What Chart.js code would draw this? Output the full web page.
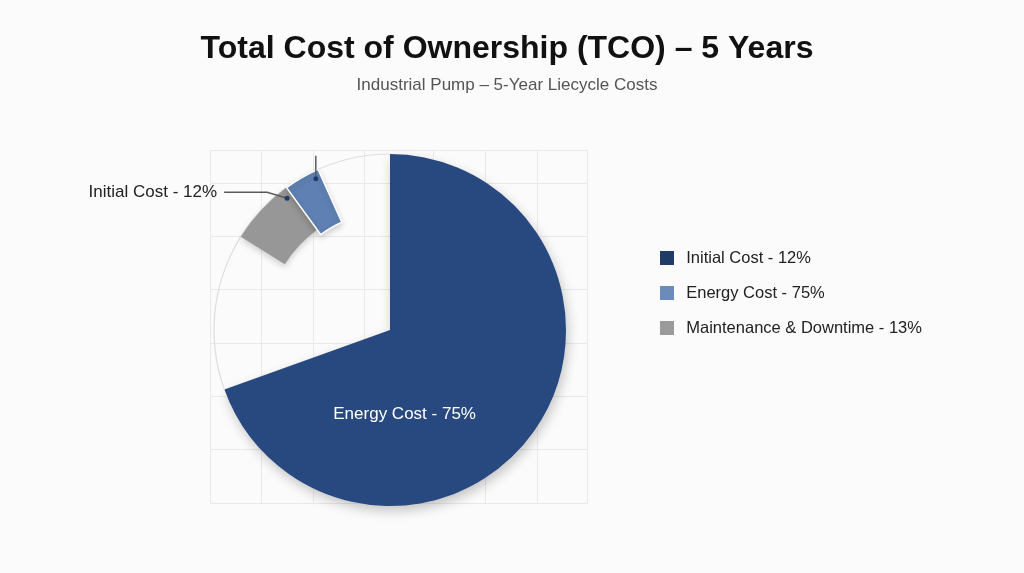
<!DOCTYPE html>
<html><head><meta charset="utf-8">
<script src="https://cdn.jsdelivr.net/npm/chart.js@4.4.1/dist/chart.umd.min.js"></script>
<style>
html,body{margin:0;padding:0;background:#fbfbfb;}
#wrap{position:relative;width:1024px;height:573px;overflow:hidden;background:#fbfbfb;}
#wrap canvas{position:absolute;left:0;top:0;}
</style></head><body>
<div id="wrap"><canvas id="grid" width="1024" height="573"></canvas><canvas id="pie" width="1024" height="573"></canvas></div>
<script>
// ---------- data ----------
const titleText = 'Total Cost of Ownership (TCO) – 5 Years';
const subtitleText = 'Industrial Pump – 5-Year Liecycle Costs';
const categories = ['Initial Cost', 'Energy Cost', 'Maintenance & Downtime'];
const sharePct = [12, 75, 13];
// slices as drawn (percent of the full circle, clockwise from 12 o'clock)
const energySlice = [69.5, 30.5];          // energy wedge, empty remainder
const grayRing = [83.9, 6.1, 10.0];        // empty, gray wedge, empty
const blueRing = [90.0, 3.3, 6.7];         // empty, blue wedge, empty
const outlineRing = [69.5, 30.5];          // under energy, outline of empty part
const pieLabel = 'Energy Cost - 75%';
const calloutLabel = 'Initial Cost - 12%';
const xGridTicks = [0, 1, 2, 3, 4.33, 5.34, 6.35, 7.32];
const yGridTicks = [0, 1, 2, 3, 4, 5, 6, 6.62];

// ---------- style ----------
const FONT = '"Liberation Sans", Arial, Helvetica, sans-serif';
Chart.defaults.font.family = FONT;
const pageBg = '#fbfbfb';
const navy = '#27497f', blue = '#5e80b2', gray = '#979797', none = 'rgba(0,0,0,0)';
const legendColors = ['#1f3b66', '#6b8cbb', '#9a9a9a'];
const gridColor = '#e9e9e9';

// ring geometry helper (per-dataset radius / cutout so that rings overlap)
const ringWeights = [20, 10, 1, 10];
function ringGeom(k, outer, inner) {
  const T = ringWeights.reduce((a, b) => a + b, 0);
  const Wb = ringWeights.slice(0, k).reduce((a, b) => a + b, 0);
  const rho = (outer - inner) / ringWeights[k];
  const R = outer + Wb * rho;
  const c = Math.max(1 - rho * T / R, 0);
  return { radius: R, cutout: (c * 100) + '%', weight: ringWeights[k] };
}

// ---------- background grid + titles ----------
new Chart(document.getElementById('grid'), {
  type: 'scatter',
  data: { datasets: [] },
  options: {
    responsive: false, animation: false, devicePixelRatio: 1, events: [],
    layout: { padding: { left: 0, right: 10, top: 10, bottom: 70 } },
    plugins: {
      legend: { display: false }, tooltip: { enabled: false },
      title: { display: true, text: titleText, color: '#111', font: { size: 32, weight: 'bold' }, padding: { top: 20, bottom: 6 } },
      subtitle: { display: true, text: subtitleText, color: '#555', font: { size: 17, weight: 'normal' }, padding: { top: 1, bottom: 54.2 } }
    },
    scales: {
      x: { type: 'linear', min: 0, max: 7.32,
           afterBuildTicks: s => { s.ticks = xGridTicks.map(v => ({ value: v })); },
           afterFit: s => { s.height = 0; },
           ticks: { display: false }, grid: { color: gridColor, drawTicks: false }, border: { color: gridColor } },
      y: { type: 'linear', min: 0, max: 6.62,
           afterBuildTicks: s => { s.ticks = yGridTicks.map(v => ({ value: v })); },
           afterFit: s => { s.width = 210; },
           ticks: { display: false }, grid: { color: gridColor, drawTicks: false }, border: { color: gridColor } },
      y2: { type: 'linear', position: 'right', min: 0, max: 1,
           afterFit: s => { s.width = 427; },
           ticks: { display: false }, grid: { display: false, drawTicks: false }, border: { display: false } }
    }
  }
});

// ---------- plugins ----------
const shadowPlugin = {
  id: 'shadows',
  beforeDatasetDraw(chart, args) {
    const s = chart.data.datasets[args.index].shadow;
    if (!s) return;
    const ctx = chart.ctx;
    ctx.save();
    ctx.shadowColor = s.color; ctx.shadowBlur = s.blur;
    ctx.shadowOffsetX = s.x; ctx.shadowOffsetY = s.y;
  },
  afterDatasetDraw(chart, args) {
    if (chart.data.datasets[args.index].shadow) chart.ctx.restore();
  }
};
const calloutPlugin = {
  id: 'callouts',
  afterDatasetsDraw(chart) {
    const ctx = chart.ctx;
    const energyArc = chart.getDatasetMeta(3).data[0];
    const grayArc = chart.getDatasetMeta(1).data[1];
    const blueArc = chart.getDatasetMeta(0).data[1];
    const cx = energyArc.x, cy = energyArc.y, r = energyArc.outerRadius;
    const at = (arc, frac, dist) => {
      const a = arc.startAngle + (arc.endAngle - arc.startAngle) * frac;
      return { x: cx + Math.cos(a) * dist, y: cy + Math.sin(a) * dist };
    };
    ctx.save();
    ctx.font = '17px ' + FONT;
    ctx.textBaseline = 'middle';
    const e = at(energyArc, 0.68, 0.485 * r);
    ctx.fillStyle = '#ffffff'; ctx.textAlign = 'center';
    ctx.fillText(pieLabel, e.x, e.y);

    const g = at(grayArc, 0.91, 0.95 * r);
    const elbow = { x: g.x - 20, y: g.y - 6 };
    ctx.strokeStyle = '#5a5a5a'; ctx.lineWidth = 1.5;
    ctx.beginPath(); ctx.moveTo(g.x, g.y); ctx.lineTo(elbow.x, elbow.y); ctx.lineTo(elbow.x - 43, elbow.y); ctx.stroke();
    ctx.fillStyle = '#222'; ctx.textAlign = 'right';
    ctx.fillText(calloutLabel, elbow.x - 50, elbow.y);

    const b = at(blueArc, 0.83, 0.957 * r);
    ctx.beginPath(); ctx.moveTo(b.x, b.y); ctx.lineTo(b.x, b.y - 23); ctx.stroke();

    ctx.fillStyle = '#1f3b66';
    for (const d of [g, b]) { ctx.beginPath(); ctx.arc(d.x, d.y, 2.5, 0, Math.PI * 2); ctx.fill(); }
    ctx.restore();
  }
};

// ---------- pie + legend ----------
new Chart(document.getElementById('pie'), {
  type: 'doughnut',
  data: {
    datasets: [
      Object.assign({ data: blueRing, backgroundColor: [none, blue, none], borderColor: '#ffffff', borderWidth: [0, 1.5, 0],
        clip: false, shadow: { color: 'rgba(0,0,0,0.18)', blur: 6, x: 0, y: 3 } }, ringGeom(0, 176, 118)),
      Object.assign({ data: grayRing, backgroundColor: [none, gray, none], borderWidth: 0,
        clip: false, shadow: { color: 'rgba(0,0,0,0.18)', blur: 6, x: 0, y: 3 } }, ringGeom(1, 176, 124)),
      Object.assign({ data: outlineRing, backgroundColor: [none, '#dedede'], borderWidth: 0, clip: false }, ringGeom(2, 176.6, 175.4)),
      Object.assign({ data: energySlice, backgroundColor: [navy, none], borderWidth: 0,
        clip: false, shadow: { color: 'rgba(0,0,0,0.22)', blur: 12, x: 2, y: 5 } }, ringGeom(3, 176, 0))
    ]
  },
  options: {
    responsive: false, animation: false, devicePixelRatio: 1, events: [],
    layout: { padding: { left: 137, right: 96, top: 234, bottom: 147 } },
    plugins: {
      tooltip: { enabled: false },
      title: { display: false },
      legend: {
        position: 'right', align: 'start', fullSize: false, maxWidth: 285,
        labels: {
          boxWidth: 22, boxHeight: 22, padding: 13, color: '#222', font: { size: 16.5 },
          generateLabels: () => categories.map((c, i) => ({
            text: c + ' - ' + sharePct[i] + '%', fillStyle: legendColors[i], strokeStyle: pageBg,
            lineWidth: 8, hidden: false, index: i, datasetIndex: 0, fontColor: '#222'
          }))
        }
      }
    }
  },
  plugins: [shadowPlugin, calloutPlugin]
});
</script>
</body></html>
